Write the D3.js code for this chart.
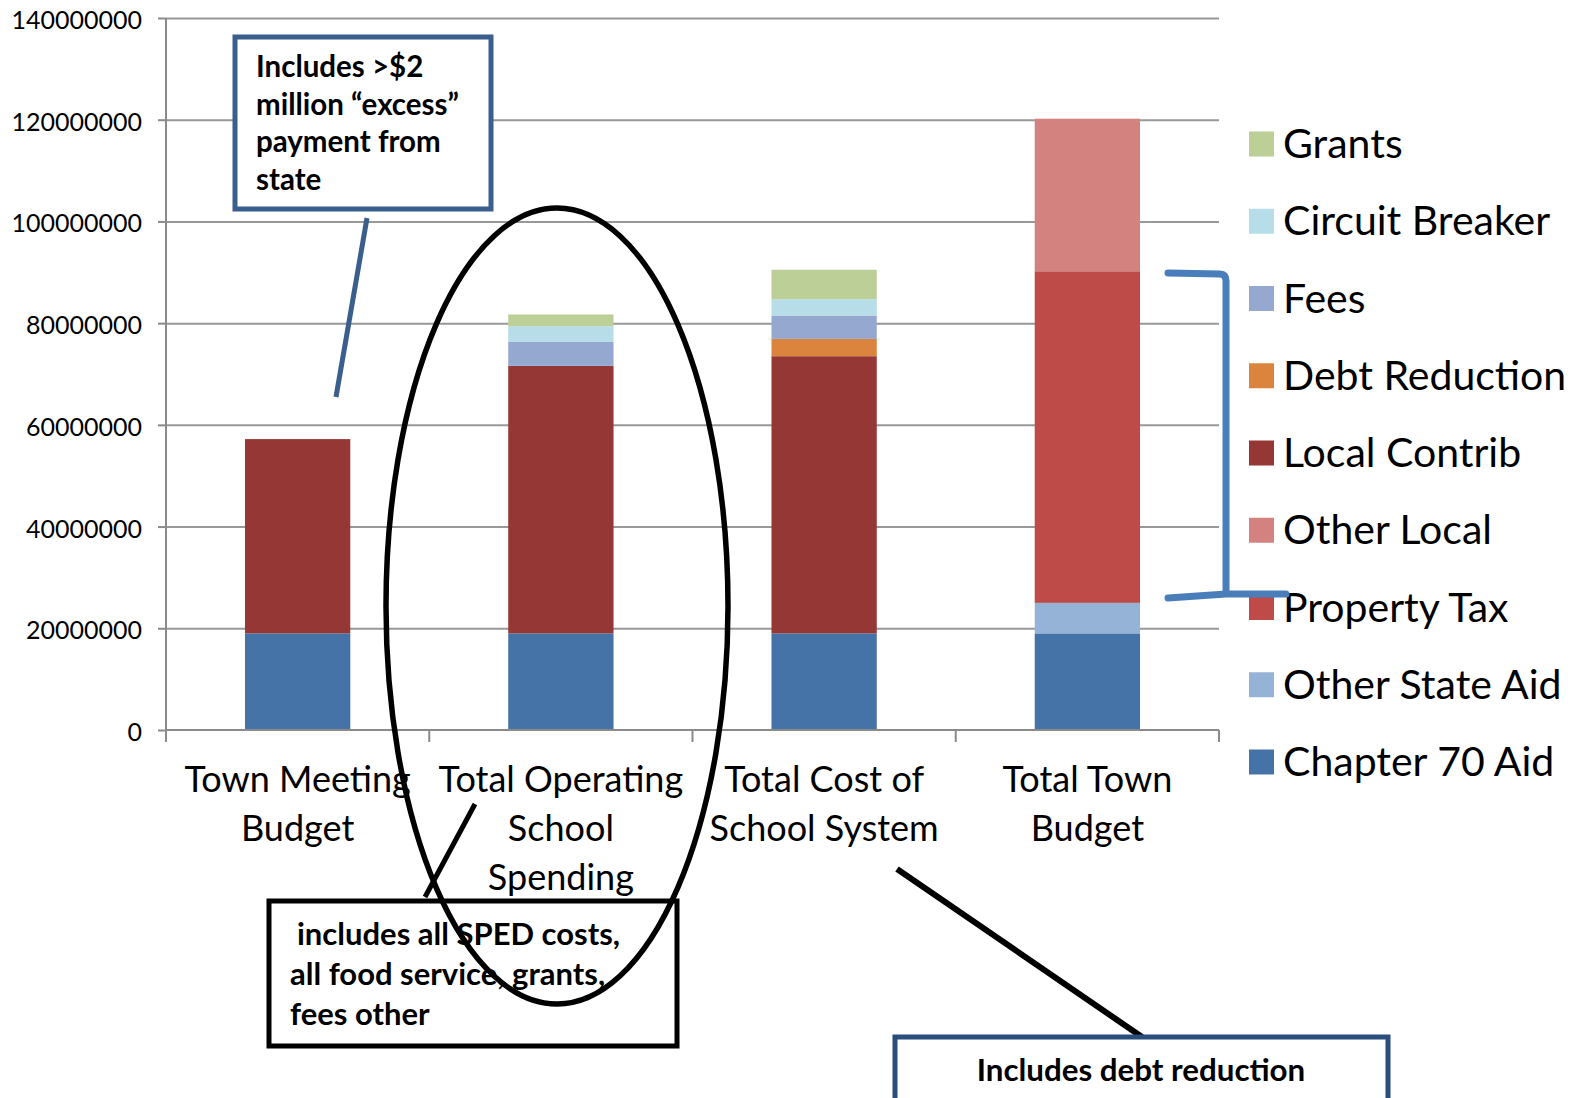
<!DOCTYPE html>
<meta charset="utf-8">
<script src="https://d3js.org/d3.v7.min.js"></script>
<style>
  body { margin: 0; background: #fff; }
  text { font-family: Lato, "Open Sans", sans-serif; fill: #000; }
</style>
<body>
<div id="chart"></div>
<script>

// categories (x axis), label lines as shown in the chart
var categories = ["Town Meeting Budget", "Total Operating School Spending", "Total Cost of School System", "Total Town Budget"];
var categoryLines = [["Town Meeting", "Budget"], ["Total Operating", "School", "Spending"], ["Total Cost of", "School System"], ["Total Town", "Budget"]];

// series, bottom to top of the stack (values in dollars)
var seriesNames = ["Chapter 70 Aid", "Other State Aid", "Property Tax", "Other Local", "Local Contrib", "Debt Reduction", "Fees", "Circuit Breaker", "Grants"];
var chapter70     = [19000000, 19000000, 19000000, 19000000];
var otherStateAid = [0, 0, 0, 6000000];
var propertyTax   = [0, 0, 0, 65200000];
var otherLocal    = [0, 0, 0, 30000000];
var localContrib  = [38200000, 52600000, 54500000, 0];
var debtReduction = [0, 0, 3400000, 0];
var fees          = [0, 4700000, 4600000, 0];
var circuitBreaker= [0, 3100000, 3200000, 0];
var grants        = [0, 2300000, 5800000, 0];

var yTicks = [0, 20000000, 40000000, 60000000, 80000000, 100000000, 120000000, 140000000];

var colors = ["#4572A7", "#95B3D7", "#BE4B48", "#D48280", "#953735", "#DB843D", "#95A9D0", "#B7DEE8", "#BBCF97"];

// build rows for d3.stack
var seriesValues = [chapter70, otherStateAid, propertyTax, otherLocal, localContrib, debtReduction, fees, circuitBreaker, grants];
var rows = categories.map(function(c, i) {
  var r = { category: c };
  seriesNames.forEach(function(s, j) { r[s] = seriesValues[j][i]; });
  return r;
});

var W = 1575, H = 1098;
var plotLeft = 166, plotRight = 1219, plotTop = 18, plotBottom = 730;

var svg = d3.select("#chart").append("svg")
    .attr("width", W)
    .attr("height", H);

var x = d3.scaleBand()
    .domain(categories)
    .range([plotLeft, plotRight])
    .paddingInner(0.6)
    .paddingOuter(0.3);

var y = d3.scaleLinear()
    .domain([0, 140000000])
    .range([plotBottom, plotTop]);

// gridlines
svg.append("g")
    .attr("transform", "translate(" + plotLeft + ",0)")
    .call(d3.axisLeft(y).tickValues(yTicks.slice(1)).tickSize(-(plotRight - plotLeft)).tickFormat(""))
    .call(function(g) { g.select(".domain").remove(); })
    .selectAll("line").attr("stroke", "#989898").attr("stroke-width", 2);

// bars
var stack = d3.stack().keys(seriesNames);
var layers = stack(rows);

svg.append("g").selectAll("g")
  .data(layers)
  .enter().append("g")
    .attr("fill", function(d, i) { return colors[i]; })
  .selectAll("rect")
  .data(function(d) { return d; })
  .enter().append("rect")
    .attr("x", function(d) { return x(d.data.category); })
    .attr("y", function(d) { return y(d[1]); })
    .attr("height", function(d) { return y(d[0]) - y(d[1]); })
    .attr("width", x.bandwidth());

// y axis
var yAxis = svg.append("g")
    .attr("transform", "translate(" + plotLeft + ",0)")
    .call(d3.axisLeft(y).tickValues(yTicks).tickSize(8).tickPadding(16).tickFormat(d3.format("d")));
yAxis.select(".domain").attr("stroke", "#8a8a8a").attr("stroke-width", 2)
    .attr("d", "M0," + plotTop + "V" + (plotBottom + 12));
yAxis.selectAll("line").attr("stroke", "#8a8a8a").attr("stroke-width", 2);
yAxis.selectAll("text")
    .style("font-family", "Lato, sans-serif")
    .style("font-size", "25px")
    .attr("fill", "#000")
    .attr("dy", "0.42em");

// x axis line and boundary ticks
svg.append("line")
    .attr("x1", plotLeft).attr("x2", plotRight)
    .attr("y1", plotBottom).attr("y2", plotBottom)
    .attr("stroke", "#8a8a8a").attr("stroke-width", 2);
svg.append("g").selectAll("line")
  .data(d3.range(categories.length + 1))
  .enter().append("line")
    .attr("x1", function(i) { return plotLeft + i * x.step(); })
    .attr("x2", function(i) { return plotLeft + i * x.step(); })
    .attr("y1", plotBottom).attr("y2", plotBottom + 12)
    .attr("stroke", "#8a8a8a").attr("stroke-width", 2);

// category labels
var catLabels = svg.append("g").selectAll("text")
  .data(categories)
  .enter().append("text")
    .attr("text-anchor", "middle")
    .style("font-size", "36px");
catLabels.each(function(c, i) {
  var t = d3.select(this);
  categoryLines[i].forEach(function(line, k) {
    t.append("tspan")
      .attr("x", x(c) + x.bandwidth() / 2)
      .attr("y", 792 + k * 49)
      .text(line);
  });
});

// legend (top item = last series)
var legendNames = seriesNames.slice().reverse();
var legend = svg.append("g").selectAll("g")
  .data(legendNames)
  .enter().append("g")
    .attr("transform", function(d, i) { return "translate(1249," + (144 + i * 77.25) + ")"; });
legend.append("rect")
    .attr("x", 0).attr("y", -12.5)
    .attr("width", 25).attr("height", 25)
    .attr("fill", function(d) { return colors[seriesNames.indexOf(d)]; });
legend.append("text")
    .attr("x", 34).attr("y", 14)
    .style("font-size", "41px")
    .text(function(d) { return d; });

// annotations
var ann = svg.append("g");

// box about state payment
ann.append("rect")
    .attr("x", 235).attr("y", 37).attr("width", 256).attr("height", 172)
    .attr("fill", "#fff").attr("stroke", "#3A5F8C").attr("stroke-width", 5);
var t1 = ann.append("text").style("font-size", "29.5px").style("font-weight", "bold");
["Includes >$2", "million \u201cexcess\u201d", "payment from", "state"].forEach(function(line, k) {
  t1.append("tspan").attr("x", 256).attr("y", 77 + k * 37.5).text(line);
});
ann.append("line")
    .attr("x1", 367).attr("y1", 218).attr("x2", 336).attr("y2", 397)
    .attr("stroke", "#3A5F8C").attr("stroke-width", 5);

// SPED box
ann.append("rect")
    .attr("x", 269).attr("y", 901).attr("width", 408).attr("height", 145)
    .attr("fill", "none").attr("stroke", "#000").attr("stroke-width", 5);
var t2 = ann.append("text").style("font-size", "31px").style("font-weight", "bold");
[" includes all SPED costs,", "all food service, grants,", "fees other"].forEach(function(line, k) {
  t2.append("tspan").attr("x", k === 0 ? 297 : 290).attr("y", 945 + k * 40).text(line);
});
ann.append("line")
    .attr("x1", 475).attr("y1", 804).attr("x2", 425).attr("y2", 897)
    .attr("stroke", "#000").attr("stroke-width", 5);

// ellipse around the operating spending column
ann.append("ellipse")
    .attr("cx", 557).attr("cy", 606).attr("rx", 171).attr("ry", 398)
    .attr("fill", "none").attr("stroke", "#000").attr("stroke-width", 5.5);

// debt reduction box
ann.append("line")
    .attr("x1", 897).attr("y1", 869).attr("x2", 1142).attr("y2", 1037)
    .attr("stroke", "#000").attr("stroke-width", 6);
ann.append("rect")
    .attr("x", 895).attr("y", 1037).attr("width", 493).attr("height", 80)
    .attr("fill", "#fff").attr("stroke", "#2A4E7C").attr("stroke-width", 5);
ann.append("text")
    .attr("x", 1141).attr("y", 1081)
    .attr("text-anchor", "middle")
    .style("font-size", "31.3px").style("font-weight", "bold")
    .text("Includes debt reduction");

// bracket on the town budget bar
ann.append("path")
    .attr("d", "M1168,273 L1220,274 Q1226,274 1226,281 L1226,592 M1168,598 L1226,594 L1286,594")
    .attr("fill", "none").attr("stroke", "#4A7EBB").attr("stroke-width", 7)
    .attr("stroke-linecap", "round");

</script>
</body>
